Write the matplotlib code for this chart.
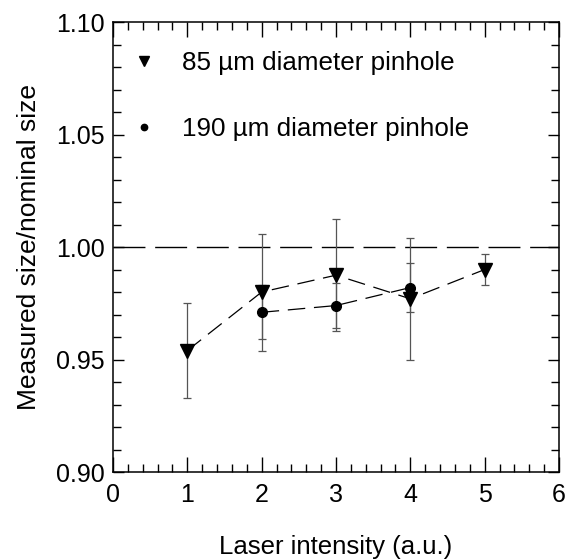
import numpy as np
import matplotlib
matplotlib.use("Agg")
import matplotlib.pyplot as plt
from matplotlib.ticker import MultipleLocator, FormatStrFormatter

plt.rcParams['font.family'] = ['Liberation Sans', 'DejaVu Sans']

# 85 um pinhole (triangles)
x_85 = [1, 2, 3, 4, 5]
y_85 = [0.954, 0.980, 0.9875, 0.977, 0.990]
err_85 = [0.021, 0.026, 0.025, 0.027, 0.007]

# 190 um pinhole (circles)
x_190 = [2, 3, 4]
y_190 = [0.971, 0.974, 0.982]
err_190 = [0.012, 0.010, 0.011]

fig = plt.figure(figsize=(5.69, 5.6), dpi=100)
ax = fig.add_axes([0.1986, 0.157, 0.7838, 0.8037])

# reference line at 1.00
ax.axhline(1.0, color='black', lw=1.0, dashes=(23, 7), zorder=1)

# error bars
ax.errorbar(x_85, y_85, yerr=err_85, fmt='none', ecolor='#555555',
            elinewidth=0.9, capsize=3, capthick=0.9, zorder=2)
ax.errorbar(x_190, y_190, yerr=err_190, fmt='none', ecolor='#555555',
            elinewidth=0.9, capsize=3, capthick=0.9, zorder=2)

# connecting dashed lines
ax.plot(x_85, y_85, color='black', lw=0.9, dashes=(14, 7), zorder=3)
ax.plot(x_190, y_190, color='black', lw=0.9, dashes=(14, 7), zorder=3)

# markers
ax.plot(x_85, y_85, linestyle='none', marker='v', ms=10, color='black',
        label='85 µm diameter pinhole', zorder=4)
ax.plot(x_190, y_190, linestyle='none', marker='o', ms=7, color='black',
        label='190 µm diameter pinhole', zorder=4)

ax.set_xlim(0, 6)
ax.set_ylim(0.90, 1.10)
ax.xaxis.set_major_locator(MultipleLocator(1))
ax.xaxis.set_minor_locator(MultipleLocator(0.2))
ax.yaxis.set_major_locator(MultipleLocator(0.05))
ax.yaxis.set_minor_locator(MultipleLocator(0.01))
ax.yaxis.set_major_formatter(FormatStrFormatter('%.2f'))

ax.tick_params(which='both', direction='in', top=True, right=True,
               labelsize=18, width=1)
ax.tick_params(axis='x', which='major', length=11, pad=8)
ax.tick_params(axis='x', which='minor', length=6)
ax.tick_params(axis='y', which='major', length=8, pad=6)
ax.tick_params(axis='y', which='minor', length=6)
for s in ax.spines.values():
    s.set_linewidth(1.1)

ax.set_xlabel('Laser intensity (a.u.)', fontsize=18.5, labelpad=20)
ax.set_ylabel('Measured size/nominal size', fontsize=19, labelpad=11)

ax.legend(loc='upper left', frameon=False, fontsize=18.75, markerscale=0.65,
          handlelength=1.0, handletextpad=0.95, labelspacing=1.6,
          borderaxespad=0.3, bbox_to_anchor=(0.0, 0.975))

fig.savefig('out.png', dpi=100)
